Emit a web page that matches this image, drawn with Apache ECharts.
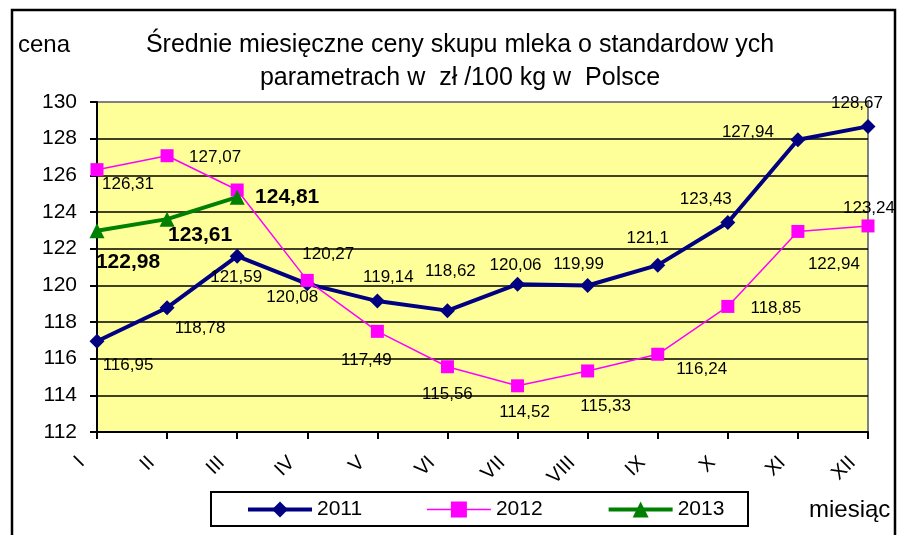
<!DOCTYPE html>
<html>
<head>
<meta charset="utf-8">
<script src="https://cdn.jsdelivr.net/npm/echarts@6/dist/echarts.min.js"></script>
<style>
  html, body { margin: 0; padding: 0; background: #fff; }
  #chart { width: 897px; height: 535px; }
</style>
</head>
<body>
<div id="chart"></div>
<script>
const months = ["I", "II", "III", "IV", "V", "VI", "VII", "VIII", "IX", "X", "XI", "XII"];
const y2011 = [116.95, 118.78, 121.59, 120.08, 119.14, 118.62, 120.06, 119.99, 121.1, 123.43, 127.94, 128.67];
const y2012 = [126.31, 127.07, 125.2, 120.27, 117.49, 115.56, 114.52, 115.33, 116.24, 118.85, 122.94, 123.24];
const y2013 = [122.98, 123.61, 124.81];

// where each value label sits relative to its point (px); null = no label
const off2011 = [[31, 24], [33, 21], [-1, 21], [-15, 13], [11, -24], [3, -39], [-2, -19], [-9, -21], [-10, -27], [-22, -23], [-50, -7], [-11, -23]];
const off2012 = [[31, 15], [48, 2], null, [21, -26], [-11, 29], [0, 28], [7, 27], [18, 35], [44, 15], [48, 2], [36, 33], [1, -18]];
const off2013 = [[31, 32], [33, 16], [50, 0]];

const FONT = "Liberation Sans, Arial";
const fmt = v => String(v).replace(".", ",");

function withLabels(values, offsets, bold) {
  return values.map((v, i) => {
    const o = offsets[i];
    if (!o) return { value: v, label: { show: false } };
    return {
      value: v,
      label: {
        show: true,
        position: "inside",
        offset: o,
        align: "center",
        verticalAlign: "middle",
        formatter: fmt(v),
        color: "#000",
        fontFamily: FONT,
        fontSize: bold ? 21 : 17,
        fontWeight: bold ? "bold" : "normal",
      },
    };
  });
}

const chart = echarts.init(document.getElementById("chart"));
const gridColors = ["#000", "#000", "#000", "#000", "#000", "#000", "#000", "#000", "#000", "#808080"];

chart.setOption({
  animation: false,
  textStyle: { fontFamily: FONT, color: "#000" },
  title: {
    text: "Średnie miesięczne ceny skupu mleka o standardow ych\nparametrach w  zł /100 kg w  Polsce",
    left: 455,
    textAlign: "center",
    top: 24,
    textStyle: { fontSize: 25, fontWeight: "normal", color: "#000", lineHeight: 33, fontFamily: FONT },
  },
  legend: {
    left: 241,
    top: 494,
    itemWidth: 64,
    itemHeight: 20,
    itemGap: 64,
    textStyle: { fontSize: 21, color: "#000" },
    data: [
      { name: "2011", lineStyle: { width: 4 } },
      { name: "2012", lineStyle: { width: 1.5 } },
      { name: "2013", lineStyle: { width: 4 } },
    ],
  },
  grid: {
    left: 97,
    right: 29,
    top: 102,
    bottom: 103,
    show: true,
    backgroundColor: "#FFFF99",
    borderColor: "#808080",
    borderWidth: 2,
  },
  xAxis: {
    type: "category",
    boundaryGap: false,
    data: months,
    axisLine: { lineStyle: { color: "#000", width: 2 } },
    axisTick: { show: true, length: 7, alignWithLabel: true, lineStyle: { color: "#000", width: 2 } },
    axisLabel: {
      rotate: 45,
      interval: 0,
      fontSize: 20,
      color: "#000",
      margin: 12,
      padding: [0, 22, 0, 0],
    },
  },
  yAxis: {
    type: "value",
    min: 112,
    max: 130,
    interval: 2,
    axisLine: { show: true, lineStyle: { color: "#000", width: 2 } },
    axisTick: { show: true, length: 7, lineStyle: { color: "#000", width: 2 } },
    axisLabel: { fontSize: 21, color: "#000", margin: 20 },
    splitLine: { lineStyle: { color: gridColors, width: 1.5 } },
  },
  graphic: [
    { type: "rect", shape: { x: 12, y: 10, width: 883, height: 540 }, style: { fill: null, stroke: "#000", lineWidth: 2.5 }, z: -1 },
    { type: "rect", shape: { x: 211, y: 492, width: 537, height: 34 }, style: { fill: null, stroke: "#000", lineWidth: 2 } },
    { type: "text", left: 18, top: 33, style: { text: "cena", fontSize: 24, fill: "#000", fontFamily: FONT } },
    { type: "text", left: 809, top: 498, style: { text: "miesiąc", fontSize: 24, fill: "#000", fontFamily: FONT } },
  ],
  series: [
    {
      name: "2011",
      type: "line",
      data: withLabels(y2011, off2011, false),
      symbol: "diamond",
      symbolSize: 15,
      lineStyle: { color: "#000080", width: 4 },
      itemStyle: { color: "#000080" },
    },
    {
      name: "2012",
      type: "line",
      data: withLabels(y2012, off2012, false),
      symbol: "rect",
      symbolSize: 13,
      lineStyle: { color: "#FF00FF", width: 1.5 },
      itemStyle: { color: "#FF00FF" },
    },
    {
      name: "2013",
      type: "line",
      data: withLabels(y2013, off2013, true),
      symbol: "triangle",
      symbolSize: 15,
      lineStyle: { color: "#008000", width: 4 },
      itemStyle: { color: "#008000" },
    },
  ],
});
</script>
</body>
</html>
